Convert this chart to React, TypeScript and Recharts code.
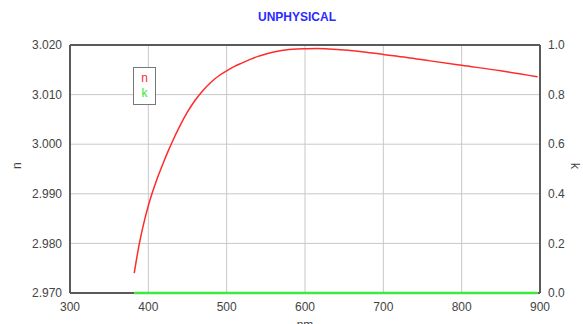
import React from "react";
import { CartesianGrid, Line, LineChart, ReferenceLine, XAxis, YAxis } from "recharts";

// wavelength (nm) and optical constants
const wavelengths = [382, 386, 390, 395, 400, 405, 410, 415, 420, 425, 430, 440, 450, 460, 470, 480, 490, 500, 510, 520, 530, 540, 550, 560, 570, 580, 590, 600, 615, 630, 650, 675, 700, 730, 760, 800, 850, 897];
const nValues = [2.974, 2.9778, 2.9811, 2.9846, 2.9876, 2.9902, 2.9925, 2.9946, 2.9966, 2.9985, 3.0003, 3.0036, 3.0065, 3.0089, 3.0109, 3.0125, 3.0138, 3.0148, 3.0157, 3.0164, 3.0171, 3.0177, 3.0182, 3.0186, 3.0189, 3.0191, 3.0192, 3.01925, 3.0193, 3.0192, 3.019, 3.0186, 3.0181, 3.0175, 3.0168, 3.0159, 3.0148, 3.0136];
const kValues = [0, 0, 0, 0, 0, 0, 0, 0, 0, 0, 0, 0, 0, 0, 0, 0, 0, 0, 0, 0, 0, 0, 0, 0, 0, 0, 0, 0, 0, 0, 0, 0, 0, 0, 0, 0, 0, 0];

const xTicks = [300, 400, 500, 600, 700, 800, 900];
const nTicks = [2.97, 2.98, 2.99, 3.0, 3.01, 3.02];
const kTicks = [0, 0.2, 0.4, 0.6, 0.8, 1.0];

const data = wavelengths.map((nm, i) => ({ nm, n: nValues[i], k: kValues[i] }));

const font = "'Liberation Sans', Arial, sans-serif";
const tickStyle = { fontSize: 12, fill: "#444", fontFamily: font };
const frame = "#5a5a5a";

export default function App() {
  return (
    <div style={{ position: "absolute", left: 0, top: 0, width: 583, height: 324, background: "#fff" }}>
      <div
        style={{
          position: "absolute",
          top: 10,
          left: 0,
          width: 594,
          textAlign: "center",
          fontFamily: font,
          fontWeight: "bold",
          fontSize: 12,
          color: "#2b2bff",
        }}
      >
        UNPHYSICAL
      </div>
      <LineChart width={583} height={324} data={data} margin={{ top: 45, right: 8, bottom: 0, left: 8 }}>
        <CartesianGrid yAxisId="n" stroke="#c8c8c8" strokeWidth={1} />
        <XAxis
          dataKey="nm"
          type="number"
          domain={[300, 900]}
          ticks={xTicks}
          height={31}
          tickLine={false}
          tick={tickStyle}
          tickMargin={3}
          axisLine={false}
          label={{ value: "nm", position: "insideBottom", offset: -5, style: tickStyle }}
        />
        <YAxis
          yAxisId="n"
          domain={[2.97, 3.02]}
          ticks={nTicks}
          width={62}
          tickLine={false}
          tick={tickStyle}
          tickMargin={2}
          tickFormatter={(v: number) => v.toFixed(3)}
          axisLine={{ stroke: frame, strokeWidth: 2 }}
          label={{ value: "n", angle: -90, position: "insideLeft", offset: 9, style: tickStyle }}
        />
        <YAxis
          yAxisId="k"
          orientation="right"
          domain={[0, 1]}
          ticks={kTicks}
          width={35}
          tickLine={false}
          tick={tickStyle}
          tickMargin={2}
          tickFormatter={(v: number) => v.toFixed(1)}
          axisLine={{ stroke: frame, strokeWidth: 2 }}
          label={{ value: "k", angle: 90, position: "insideRight", offset: 0, style: tickStyle }}
        />
        <ReferenceLine yAxisId="n" y={3.02} stroke={frame} strokeWidth={2} />
        <ReferenceLine
          yAxisId="n"
          segment={[{ x: 300, y: 2.97 }, { x: 382, y: 2.97 }]}
          stroke={frame}
          strokeWidth={2}
        />
        <ReferenceLine
          yAxisId="n"
          segment={[{ x: 897, y: 2.97 }, { x: 900, y: 2.97 }]}
          stroke={frame}
          strokeWidth={2}
        />
        <Line
          yAxisId="k"
          type="monotone"
          dataKey="k"
          stroke="#3ee83e"
          strokeWidth={2.5}
          dot={false}
          isAnimationActive={false}
        />
        <Line
          yAxisId="n"
          type="monotone"
          dataKey="n"
          stroke="#ff2b2b"
          strokeWidth={1.5}
          dot={false}
          isAnimationActive={false}
        />
      </LineChart>
      <div
        style={{
          position: "absolute",
          left: 133,
          top: 67,
          width: 21,
          height: 33,
          border: "1px solid #777",
          background: "#fff",
          fontFamily: font,
          fontSize: 12,
          lineHeight: "15px",
          paddingTop: 3,
          textAlign: "center",
          boxSizing: "content-box",
        }}
      >
        <div style={{ color: "#ff2b2b" }}>n</div>
        <div style={{ color: "#2ee82e" }}>k</div>
      </div>
    </div>
  );
}
